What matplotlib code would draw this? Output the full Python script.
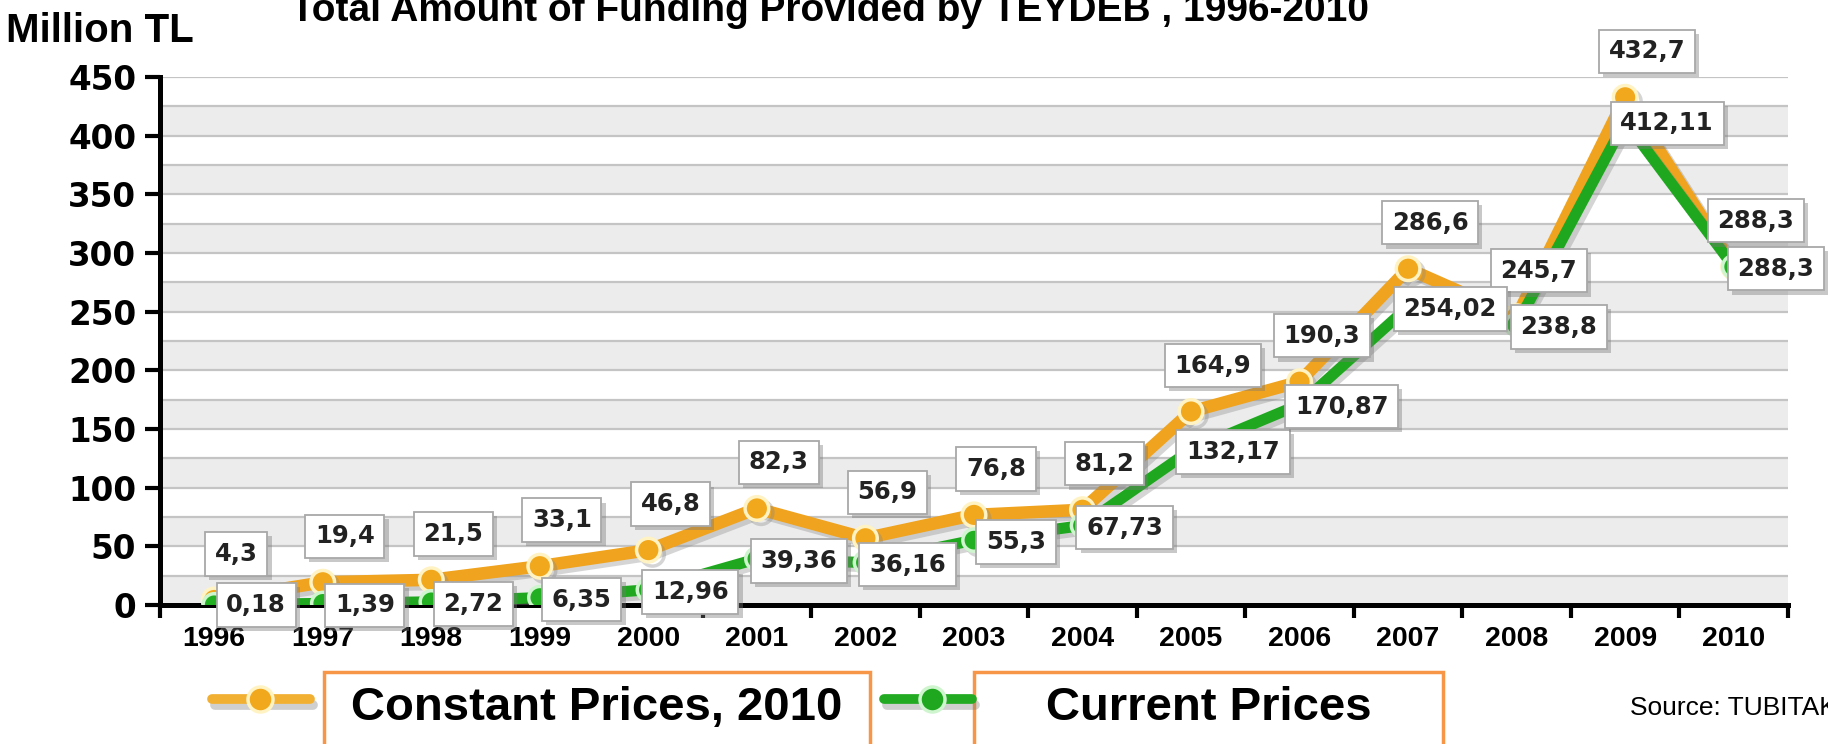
import matplotlib
matplotlib.use('Agg')
import matplotlib.pyplot as plt
import matplotlib.patheffects as pe
from matplotlib.lines import Line2D
from matplotlib.patches import Rectangle

# data
years = ['1996', '1997', '1998', '1999', '2000', '2001', '2002', '2003',
         '2004', '2005', '2006', '2007', '2008', '2009', '2010']
constant_prices = [4.3, 19.4, 21.5, 33.1, 46.8, 82.3, 56.9, 76.8,
                   81.2, 164.9, 190.3, 286.6, 245.7, 432.7, 288.3]
current_prices = [0.18, 1.39, 2.72, 6.35, 12.96, 39.36, 36.16, 55.3,
                  67.73, 132.17, 170.87, 254.02, 238.8, 412.11, 288.3]

ORANGE = '#F0A31E'
GREEN = '#1FA81F'
BOX_ORANGE = '#F79646'

def fmt(v):
    return ('%g' % v).replace('.', ',')

fig = plt.figure(figsize=(18.28, 7.44), dpi=100)
ax = fig.add_axes([0.0875, 0.1868, 0.8906, 0.7097])

x = list(range(len(years)))
ax.set_xlim(-0.5, len(years) - 0.5)
ax.set_ylim(0, 450)

# background bands and grid
for lo in range(0, 450, 50):
    ax.axhspan(lo, lo + 25, color='#ececec', lw=0, zorder=0)
ax.set_yticks(range(0, 451, 50))
ax.set_yticks(range(0, 451, 25), minor=True)
ax.yaxis.grid(True, which='both', color='#c4c4c4', lw=1.6, zorder=1)
ax.set_axisbelow(True)

shadow = [pe.SimpleLineShadow(offset=(3, -3), shadow_color='#888888', alpha=0.35), pe.Normal()]
ax.plot(x, constant_prices, color=ORANGE, lw=9, marker='o', ms=17,
        mfc='#F2A81C', mec='#FFF3C4', mew=2.5, zorder=3, path_effects=shadow,
        solid_joinstyle='miter')
ax.plot(x, current_prices, color=GREEN, lw=8, marker='o', ms=16,
        mfc='#22B022', mec='#CFF5CF', mew=2.5, zorder=4, path_effects=shadow,
        solid_joinstyle='miter')

box = dict(boxstyle='square,pad=0.4', fc='white', ec='#a8a8a8', lw=1.3,
           path_effects=[pe.withSimplePatchShadow(offset=(3, -3), shadow_rgbFace='#777777', alpha=0.4)])

# constant price labels sit above and a little right of the point,
# current price labels sit just right of the point
for i, v in enumerate(constant_prices):
    ax.annotate(fmt(v), (i, v), xytext=(22, 46),
                textcoords='offset pixels', ha='center', va='center',
                fontsize=17.5, fontweight='bold', color='#222222',
                family='DejaVu Sans', bbox=box, zorder=6, annotation_clip=False)
for i, v in enumerate(current_prices):
    ax.annotate(fmt(v), (i, v), xytext=(42, -2 if v > 1 else 0),
                textcoords='offset pixels', ha='center', va='center',
                fontsize=17.5, fontweight='bold', color='#222222',
                family='DejaVu Sans', bbox=box, zorder=7, annotation_clip=False)

# axes styling
for s in ['top', 'right']:
    ax.spines[s].set_visible(False)
for s in ['left', 'bottom']:
    ax.spines[s].set_linewidth(3.6)
    ax.spines[s].set_capstyle('projecting')

ax.set_xticks(x)
ax.set_xticklabels(years, fontsize=20.5, fontweight='bold', family='Liberation Sans')
ax.set_xticks([i - 0.5 for i in range(len(years) + 1)], minor=True)
ax.tick_params(axis='x', which='major', length=0, pad=15)
ax.tick_params(axis='x', which='minor', length=9, width=3, direction='out')
ax.tick_params(axis='y', which='major', length=11, width=3, pad=6)
ax.tick_params(axis='y', which='minor', length=0)
for t in ax.get_yticklabels():
    t.set_fontsize(23.5)
    t.set_fontweight('bold')
    t.set_family('DejaVu Sans')

# titles
fig.text(830 / 1828, 1 - 21 / 744, 'Total Amount of Funding Provided by TEYDEB , 1996-2010',
         ha='center', va='baseline', fontsize=28, fontweight='bold', family='Liberation Sans')
fig.text(6 / 1828, 1 - 42 / 744, 'Million TL', ha='left', va='baseline',
         fontsize=29, fontweight='bold', family='Liberation Sans')

# legend keys
ky = 45 / 744
key_fx = [pe.SimpleLineShadow(offset=(2, -4), shadow_color='#777777', alpha=0.35), pe.Normal()]
for x0, x1, xm, lc, fc, ec in [(212, 310, 260, '#F2B033', '#F2A81C', '#FFF3C4'),
                               (884, 972, 932, '#22AA22', '#1FA81F', '#CFF5CF')]:
    fig.add_artist(Line2D([x0 / 1828, x1 / 1828], [ky, ky], color=lc, lw=7,
                          solid_capstyle='round', path_effects=key_fx,
                          transform=fig.transFigure))
    fig.add_artist(Line2D([xm / 1828], [ky], marker='o', ms=18, mfc=fc,
                          mec=ec, mew=2.5, transform=fig.transFigure))

for x0, x1, label in [(324, 870, 'Constant Prices, 2010'), (974, 1443, 'Current Prices')]:
    fig.add_artist(Rectangle((x0 / 1828, -0.05), (x1 - x0) / 1828, 0.05 + 72 / 744,
                             transform=fig.transFigure, fc='white', ec=BOX_ORANGE,
                             lw=2.5, clip_on=False))
    fig.text((x0 + x1) / 2 / 1828, 36 / 744, label, ha='center', va='center',
             fontsize=34, fontweight='bold', family='Liberation Sans')

fig.text(1630 / 1828, 36 / 744, 'Source: TUBITAK', ha='left', va='center',
         fontsize=19, family='Liberation Sans')

fig.savefig('out.png', dpi=100)
